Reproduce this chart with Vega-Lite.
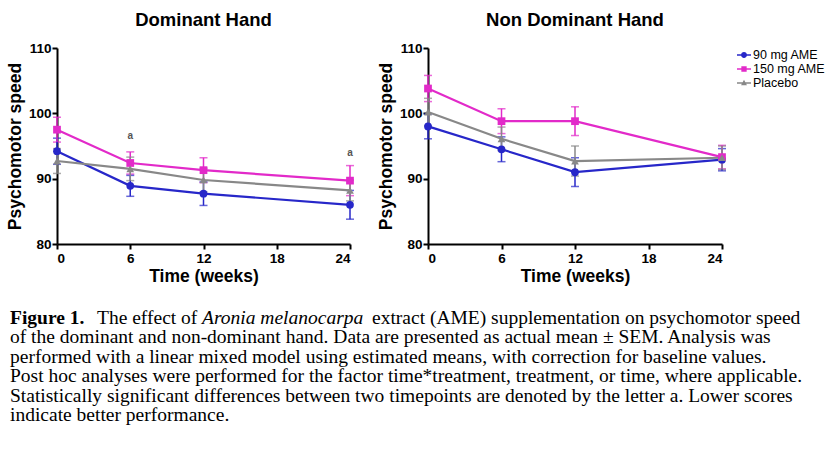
{
  "$schema": "https://vega.github.io/schema/vega-lite/v6.json",
  "background": "white",
  "padding": {"left": 6, "top": 10, "right": 2, "bottom": 2},
  "datasets": {
    "pts": [
      {"hand": "Dominant", "group": "90 mg AME", "week": 0, "mean": 94.2, "sem": 2.0},
      {"hand": "Dominant", "group": "90 mg AME", "week": 6, "mean": 88.9, "sem": 1.6},
      {"hand": "Dominant", "group": "90 mg AME", "week": 12, "mean": 87.7, "sem": 1.8},
      {"hand": "Dominant", "group": "90 mg AME", "week": 24, "mean": 86.0, "sem": 2.2},
      {"hand": "Dominant", "group": "150 mg AME", "week": 0, "mean": 97.5, "sem": 1.9},
      {"hand": "Dominant", "group": "150 mg AME", "week": 6, "mean": 92.4, "sem": 1.7},
      {"hand": "Dominant", "group": "150 mg AME", "week": 12, "mean": 91.3, "sem": 1.9},
      {"hand": "Dominant", "group": "150 mg AME", "week": 24, "mean": 89.7, "sem": 2.3},
      {"hand": "Dominant", "group": "Placebo", "week": 0, "mean": 92.7, "sem": 1.9},
      {"hand": "Dominant", "group": "Placebo", "week": 6, "mean": 91.5, "sem": 1.8},
      {"hand": "Dominant", "group": "Placebo", "week": 12, "mean": 89.8, "sem": 1.8},
      {"hand": "Dominant", "group": "Placebo", "week": 24, "mean": 88.2, "sem": 1.6},
      {"hand": "Non Dominant", "group": "90 mg AME", "week": 0, "mean": 98.0, "sem": 1.9},
      {"hand": "Non Dominant", "group": "90 mg AME", "week": 6, "mean": 94.5, "sem": 1.9},
      {"hand": "Non Dominant", "group": "90 mg AME", "week": 12, "mean": 91.0, "sem": 2.2},
      {"hand": "Non Dominant", "group": "90 mg AME", "week": 24, "mean": 92.9, "sem": 1.7},
      {"hand": "Non Dominant", "group": "150 mg AME", "week": 0, "mean": 103.8, "sem": 2.0},
      {"hand": "Non Dominant", "group": "150 mg AME", "week": 6, "mean": 98.8, "sem": 1.9},
      {"hand": "Non Dominant", "group": "150 mg AME", "week": 12, "mean": 98.8, "sem": 2.2},
      {"hand": "Non Dominant", "group": "150 mg AME", "week": 24, "mean": 93.3, "sem": 1.8},
      {"hand": "Non Dominant", "group": "Placebo", "week": 0, "mean": 100.2, "sem": 2.1},
      {"hand": "Non Dominant", "group": "Placebo", "week": 6, "mean": 96.1, "sem": 1.8},
      {"hand": "Non Dominant", "group": "Placebo", "week": 12, "mean": 92.7, "sem": 2.3},
      {"hand": "Non Dominant", "group": "Placebo", "week": 24, "mean": 93.2, "sem": 1.8}
    ],
    "sig": [
      {"week": 6, "y": 96.6, "label": "a"},
      {"week": 24, "y": 94.0, "label": "a"}
    ],
    "caption": [
      {"line": 1, "seg": "bold", "text": "Figure 1."},
      {"line": 1, "seg": "n1", "text": "The effect of"},
      {"line": 1, "seg": "it", "text": "Aronia melanocarpa"},
      {"line": 1, "seg": "n2", "text": "extract (AME) supplementation on psychomotor speed"},
      {"line": 2, "seg": "n", "text": "of the dominant and non-dominant hand.  Data are presented as actual mean ± SEM. Analysis was"},
      {"line": 3, "seg": "n", "text": "performed with a linear mixed model using estimated means, with correction for baseline values."},
      {"line": 4, "seg": "n", "text": "Post hoc analyses were performed for the factor time*treatment, treatment, or time, where applicable."},
      {"line": 5, "seg": "n", "text": "Statistically significant differences between two timepoints are denoted by the letter a.  Lower scores"},
      {"line": 6, "seg": "n", "text": "indicate better performance."}
    ]
  },
  "config": {
    "view": {"stroke": null},
    "font": "Liberation Sans",
    "axis": {
      "grid": false,
      "domainColor": "black", "domainWidth": 2,
      "tickColor": "black", "tickWidth": 2, "tickSize": 5,
      "labelFont": "Liberation Sans", "labelFontWeight": "bold", "labelFontSize": 13.5, "labelColor": "black",
      "titleFont": "Liberation Sans", "titleFontSize": 17.5, "titleFontWeight": "bold", "titleColor": "black"
    },
    "title": {"font": "Liberation Sans", "fontSize": 18.5, "fontWeight": "bold", "color": "black", "frame": "group", "anchor": "middle", "offset": 12}
  },
  "spacing": 22,
  "vconcat": [
    {
      "spacing": 22,
      "resolve": {"scale": {"color": "independent", "shape": "independent"}, "legend": {"color": "independent", "shape": "independent"}},
      "hconcat": [
        {
          "title": "Dominant Hand",
          "width": 293, "height": 196,
          "layer": [
            {
              "data": {"name": "pts"},
              "transform": [{"filter": "datum.hand === 'Dominant'"}],
              "layer": [
                {
                  "mark": {"type": "errorbar", "ticks": {"size": 8}, "thickness": 1.5},
                  "encoding": {
                    "x": {"field": "week", "type": "quantitative", "title": "Time (weeks)"},
                    "y": {"field": "mean", "type": "quantitative", "title": "Psychomotor speed"},
                    "yError": {"field": "sem"},
                    "color": {"field": "group", "type": "nominal", "legend": null, "scale": {"domain": ["90 mg AME", "150 mg AME", "Placebo"], "range": ["#2727c9", "#e22ac9", "#888888"]}}
                  }
                },
                {
                  "mark": {"type": "line", "strokeWidth": 2.2},
                  "encoding": {
                    "x": {"field": "week", "type": "quantitative", "scale": {"domain": [0, 24], "nice": false}, "axis": {"values": [0, 6, 12, 18, 24], "title": "Time (weeks)", "labelPadding": 2, "titlePadding": 3}},
                    "y": {"field": "mean", "type": "quantitative", "scale": {"domain": [80, 110], "nice": false, "zero": false}, "axis": {"values": [80, 90, 100, 110], "title": "Psychomotor speed", "labelPadding": 1, "titlePadding": 4}},
                    "color": {"field": "group", "type": "nominal", "legend": null}
                  }
                },
                {
                  "mark": {"type": "point", "filled": true, "opacity": 1, "size": 60},
                  "encoding": {
                    "x": {"field": "week", "type": "quantitative"},
                    "y": {"field": "mean", "type": "quantitative"},
                    "color": {"field": "group", "type": "nominal", "legend": null},
                    "shape": {"field": "group", "type": "nominal", "legend": null, "scale": {"domain": ["90 mg AME", "150 mg AME", "Placebo"], "range": ["circle", "square", "triangle-up"]}}
                  }
                }
              ]
            },
            {
              "data": {"name": "sig"},
              "mark": {"type": "text", "fontSize": 10, "fontWeight": "bold", "color": "#555555"},
              "encoding": {
                "x": {"field": "week", "type": "quantitative"},
                "y": {"field": "y", "type": "quantitative"},
                "text": {"field": "label"}
              }
            }
          ]
        },
        {
          "title": "Non Dominant Hand",
          "width": 294, "height": 196,
          "data": {"name": "pts"},
          "transform": [{"filter": "datum.hand === 'Non Dominant'"}],
          "layer": [
            {
              "mark": {"type": "errorbar", "ticks": {"size": 8}, "thickness": 1.5},
              "encoding": {
                "x": {"field": "week", "type": "quantitative", "title": "Time (weeks)"},
                "y": {"field": "mean", "type": "quantitative", "title": "Psychomotor speed"},
                "yError": {"field": "sem"},
                "color": {"field": "group", "type": "nominal", "title": null, "scale": {"domain": ["90 mg AME", "150 mg AME", "Placebo"], "range": ["#2727c9", "#e22ac9", "#888888"]},
                  "legend": {
                    "orient": "right", "offset": 10, "title": null,
                    "labelFont": "Liberation Sans", "labelFontSize": 12.5, "labelColor": "black", "labelOffset": 2,
                    "symbolSize": 196, "rowPadding": -1, "symbolStrokeWidth": 0,
                    "encode": {"symbols": {"update": {"shape": {"signal": "datum.value === '90 mg AME' ? 'M-1,-0.12H1V0.12H-1Z M-0.42,0A0.42,0.42 0 1,1 0.42,0A0.42,0.42 0 1,1 -0.42,0Z' : datum.value === '150 mg AME' ? 'M-1,-0.12H1V0.12H-1Z M-0.38,-0.38H0.38V0.38H-0.38Z' : 'M-1,-0.12H1V0.12H-1Z M0,-0.45L0.42,0.33L-0.42,0.33Z'"}, "fill": {"scale": "color", "field": "value"}, "fillOpacity": {"value": 1}, "strokeWidth": {"value": 0}}}}
                  }
                }
              }
            },
            {
              "mark": {"type": "line", "strokeWidth": 2.2},
              "encoding": {
                "x": {"field": "week", "type": "quantitative", "scale": {"domain": [0, 24], "nice": false}, "axis": {"values": [0, 6, 12, 18, 24], "title": "Time (weeks)", "labelPadding": 2, "titlePadding": 3}},
                "y": {"field": "mean", "type": "quantitative", "scale": {"domain": [80, 110], "nice": false, "zero": false}, "axis": {"values": [80, 90, 100, 110], "title": "Psychomotor speed", "labelPadding": 1, "titlePadding": 4}},
                "color": {"field": "group", "type": "nominal"}
              }
            },
            {
              "transform": [{"filter": "datum.group === '90 mg AME'"}],
              "mark": {"type": "point", "filled": true, "opacity": 1, "size": 60, "shape": "circle"},
              "encoding": {
                "x": {"field": "week", "type": "quantitative"},
                "y": {"field": "mean", "type": "quantitative"},
                "color": {"field": "group", "type": "nominal"}
              }
            },
            {
              "transform": [{"filter": "datum.group === '150 mg AME'"}],
              "mark": {"type": "point", "filled": true, "opacity": 1, "size": 60, "shape": "square"},
              "encoding": {
                "x": {"field": "week", "type": "quantitative"},
                "y": {"field": "mean", "type": "quantitative"},
                "color": {"field": "group", "type": "nominal"}
              }
            },
            {
              "transform": [{"filter": "datum.group === 'Placebo'"}],
              "mark": {"type": "point", "filled": true, "opacity": 1, "size": 60, "shape": "triangle-up"},
              "encoding": {
                "x": {"field": "week", "type": "quantitative"},
                "y": {"field": "mean", "type": "quantitative"},
                "color": {"field": "group", "type": "nominal"}
              }
            }
          ]
        }
      ]
    },
    {
      "width": 740, "height": 117,
      "data": {"name": "caption"},
      "encoding": {
        "y": {"field": "line", "type": "ordinal", "axis": null, "scale": {"paddingInner": 0, "paddingOuter": 0}},
        "x": {"value": 0},
        "text": {"field": "text"}
      },
      "layer": [
        {"transform": [{"filter": "datum.seg === 'bold'"}], "mark": {"type": "text", "align": "left", "baseline": "middle", "font": "Liberation Serif", "fontSize": 19.5, "fontWeight": "bold", "color": "black", "dx": -47}},
        {"transform": [{"filter": "datum.seg === 'n1'"}], "mark": {"type": "text", "align": "left", "baseline": "middle", "font": "Liberation Serif", "fontSize": 19.5, "color": "black", "dx": 40}},
        {"transform": [{"filter": "datum.seg === 'it'"}], "mark": {"type": "text", "align": "left", "baseline": "middle", "font": "Liberation Serif", "fontSize": 19.5, "fontStyle": "italic", "color": "black", "dx": 145}},
        {"transform": [{"filter": "datum.seg === 'n2'"}], "mark": {"type": "text", "align": "left", "baseline": "middle", "font": "Liberation Serif", "fontSize": 19.5, "color": "black", "dx": 315}},
        {"transform": [{"filter": "datum.seg === 'n'"}], "mark": {"type": "text", "align": "left", "baseline": "middle", "font": "Liberation Serif", "fontSize": 19.5, "color": "black", "dx": -47}}
      ]
    }
  ]
}
